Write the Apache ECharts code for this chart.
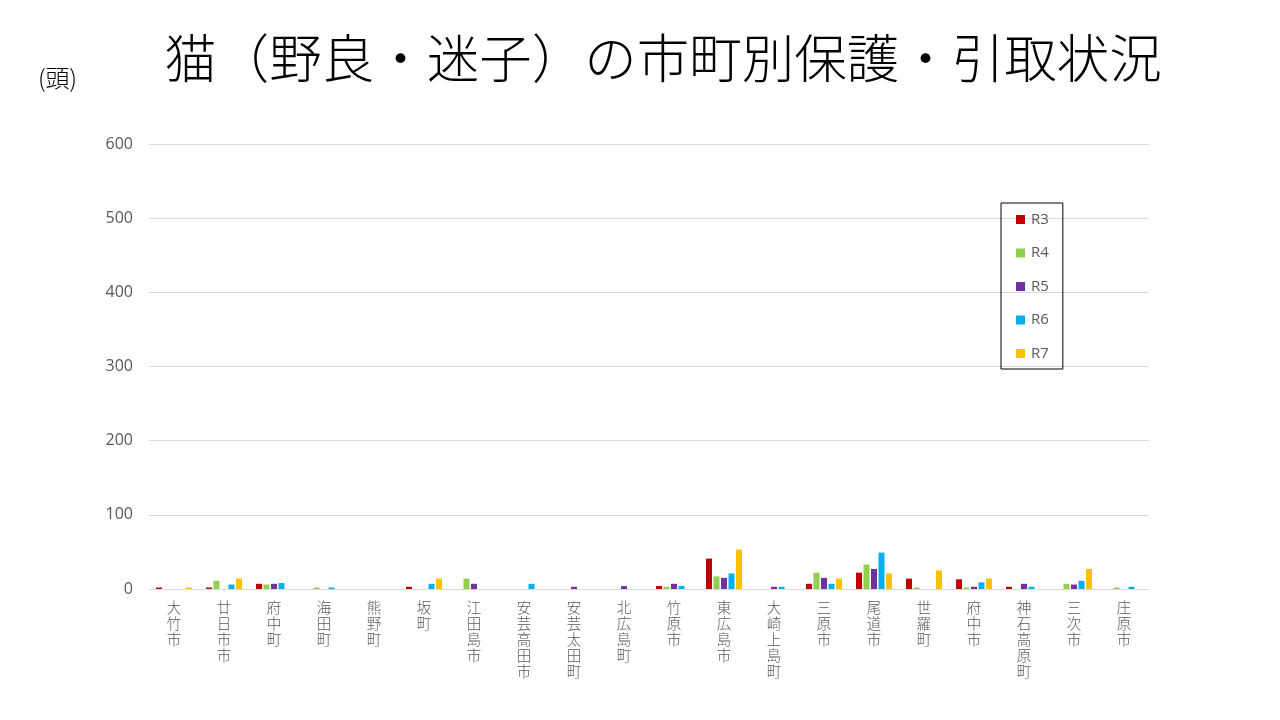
<!DOCTYPE html>
<html>
<head>
<meta charset="utf-8">
<script src="https://cdn.jsdelivr.net/npm/echarts@6/dist/echarts.min.js"></script>
<style>
html,body{margin:0;padding:0;background:#fff;}
#c{width:1280px;height:720px;}
</style>
</head>
<body>
<div id="c"></div>
<script>
const categories = ['大竹市','廿日市市','府中町','海田町','熊野町','坂町','江田島市','安芸高田市','安芸太田町','北広島町','竹原市','東広島市','大崎上島町','三原市','尾道市','世羅町','府中市','神石高原町','三次市','庄原市'];
const seriesNames = ['R3','R4','R5','R6','R7'];
const R3 = [2,2,7,0,0,3,0,0,0,0,4,41,0,7,22,14,13,3,0,0];
const R4 = [0,11,6,2,0,0,14,0,0,0,3,17,0,22,33,2,2,0,7,2];
const R5 = [0,0,7,0,0,0,7,0,3,4,7,15,3,15,27,0,3,7,6,0];
const R6 = [0,6,8,2,0,7,0,7,0,0,4,21,3,7,49,0,9,3,11,3];
const R7 = [2,14,0,0,0,14,0,0,0,0,0,53,0,14,21,25,14,0,27,0];
const colors = ['#C00000','#92D050','#7030A0','#00B0F0','#FFC000'];
const yTicks = {min:0, max:600, interval:100};

const font = '"Noto Sans CJK JP", "Noto Sans", sans-serif';
const chart = echarts.init(document.getElementById('c'), null, {renderer:'canvas'});
const dataArr = [R3,R4,R5,R6,R7];
chart.setOption({
  backgroundColor:'#ffffff',
  animation:false,
  title:[
    {text:'猫（野良・迷子）の市町別保護・引取状況', left:658, top:27, textAlign:'center',
     textStyle:{fontFamily:font, fontSize:52.5, fontWeight:300, color:'#000000'}},
    {text:'(頭)', left:33, top:61,
     textStyle:{fontFamily:font, fontSize:24, fontWeight:300, color:'#000000'}}
  ],
  grid:{left:149, right:131, top:144, height:445, containLabel:false},
  legend:{
    orient:'vertical', left:1001, top:203, 
    data:seriesNames, itemWidth:9, itemHeight:9, itemGap:18.5,
    padding:[9,14,8,15],
    borderColor:'#000000', borderWidth:1,
    icon:'rect',
    textStyle:{fontFamily:'"Open Sans", "Noto Sans", sans-serif', fontSize:15, color:'#595959', padding:[0,0,0,1]}
  },
  xAxis:{
    type:'category', data:categories,
    axisLine:{lineStyle:{color:'#D9D9D9', width:1}},
    axisTick:{show:false},
    axisLabel:{interval:0, margin:10, color:'#595959', fontFamily:font, fontSize:14.5, fontWeight:300, lineHeight:16,
      verticalAlign:'top',
      formatter:function(v){return v.split('').join('\n');}}
  },
  yAxis:{
    type:'value', min:yTicks.min, max:yTicks.max, interval:yTicks.interval,
    axisLine:{show:false}, axisTick:{show:false},
    splitLine:{lineStyle:{color:'#D9D9D9', width:1}},
    axisLabel:{color:'#595959', fontFamily:'"Open Sans", "Noto Sans", sans-serif', fontSize:16, margin:16}
  },
  series: seriesNames.map((n,i)=>({
    name:n, type:'bar', data:dataArr[i], barWidth:6, barGap:'25%',
    itemStyle:{color:colors[i]}
  }))
});
</script>
</body>
</html>
